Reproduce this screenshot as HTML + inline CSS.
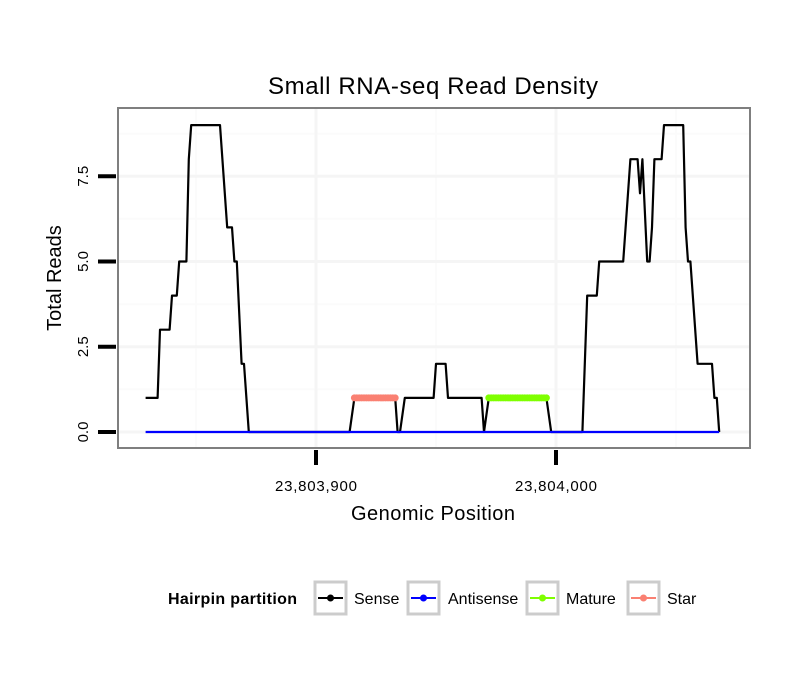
<!DOCTYPE html>
<html><head><meta charset="utf-8"><style>
body{margin:0;background:#fff;font-family:"Liberation Sans",sans-serif}
</style></head><body>
<svg id="chart" width="810" height="690" xmlns="http://www.w3.org/2000/svg" font-family="Liberation Sans, sans-serif">
<rect width="810" height="690" fill="#fff"/>
<text x="433" y="94" font-size="24" text-anchor="middle" textLength="330">Small RNA-seq Read Density</text>
<g id="grid"></g>
<g id="series"></g>
<rect x="118" y="108" width="632" height="340" fill="none" stroke="#7f7f7f" stroke-width="2"/>
<g id="axes"></g>
<text x="433" y="520" font-size="20" text-anchor="middle" textLength="164">Genomic Position</text>
<text transform="translate(61,278) rotate(-90)" font-size="20" text-anchor="middle">Total Reads</text>
<g font-size="16">
<text x="168" y="604" font-weight="bold" textLength="129">Hairpin partition</text>
<g><rect x="315" y="582" width="31" height="32" fill="#fff" stroke="#ccc" stroke-width="3"/><line x1="318" y1="598" x2="343" y2="598" stroke="#000" stroke-width="2"/><circle cx="330.5" cy="598" r="3.5" fill="#000"/><text x="354" y="604">Sense</text></g>
<g><rect x="408" y="582" width="31" height="32" fill="#fff" stroke="#ccc" stroke-width="3"/><line x1="411" y1="598" x2="436" y2="598" stroke="#00f" stroke-width="2"/><circle cx="423.5" cy="598" r="3.5" fill="#00f"/><text x="448" y="604">Antisense</text></g>
<g><rect x="527" y="582" width="31" height="32" fill="#fff" stroke="#ccc" stroke-width="3"/><line x1="530" y1="598" x2="555" y2="598" stroke="#7fff00" stroke-width="2"/><circle cx="542.5" cy="598" r="3.5" fill="#7fff00"/><text x="566" y="604">Mature</text></g>
<g><rect x="628" y="582" width="31" height="32" fill="#fff" stroke="#ccc" stroke-width="3"/><line x1="631" y1="598" x2="656" y2="598" stroke="#fa8072" stroke-width="2"/><circle cx="643.5" cy="598" r="3.5" fill="#fa8072"/><text x="667" y="604">Star</text></g>
</g>
</svg>
<script>
const sensePos = [23803829,23803834,23803835,23803839,23803840,23803842,23803843,23803846,23803847,23803848,23803860,23803863,23803865,23803866,23803867,23803869,23803870,23803872,23803914,23803916,23803933,23803934,23803935,23803937,23803949,23803950,23803954,23803955,23803969,23803970,23803972,23803996,23803998,23804011,23804013,23804017,23804018,23804028,23804029,23804031,23804034,23804035,23804036,23804038,23804039,23804040,23804041,23804044,23804045,23804053,23804054,23804055,23804056,23804059,23804065,23804066,23804067,23804068];
const senseVal = [1,1,3,3,4,4,5,5,8,9,9,6,6,5,5,2,2,0,0,1,1,0,0,1,1,2,2,1,1,0,1,1,0,0,4,4,5,5,6,8,8,7,8,5,5,6,8,8,9,9,6,5,5,2,2,1,1,0];
const antisensePos = [23803829,23804068];
const antisenseVal = [0,0];
const starRange = [23803916,23803933];
const starVal = 1;
const matureRange = [23803972,23803996];
const matureVal = 1;
const xTicks = [23803900,23804000];
const xTickLabels = ["23,803,900","23,804,000"];
const yTicks = [0,2.5,5,7.5];
const yTickLabels = ["0.0","2.5","5.0","7.5"];

const NS="http://www.w3.org/2000/svg";
const xs = p => 316 + (p-23803900)*2.4;
const ys = v => 432 - v*34.1;
function mk(tag, attrs, parent){const e=document.createElementNS(NS,tag);for(const k in attrs)e.setAttribute(k,attrs[k]);parent.appendChild(e);return e;}
const grid=document.getElementById('grid'), series=document.getElementById('series'), axes=document.getElementById('axes');
mk('rect',{x:118,y:108,width:632,height:340,fill:'#fff'},grid);
for(let p=23803850;p<=23804050;p+=100){const l=mk('line',{x1:xs(p),x2:xs(p),y1:109,y2:447,stroke:'#fbfbfb','stroke-width':2},grid);

}
for(let v=1.25;v<9.5;v+=2.5){const l=mk('line',{x1:119,x2:749,y1:ys(v),y2:ys(v),stroke:'#fbfbfb','stroke-width':2},grid);

}
xTicks.forEach((p,i)=>{const l=mk('line',{x1:xs(p),x2:xs(p),y1:109,y2:447,stroke:'#f5f5f5','stroke-width':3},grid);


const t=mk('line',{x1:xs(p),x2:xs(p),y1:450,y2:465,stroke:'#000','stroke-width':4},axes);


const tx=mk('text',{x:xs(p),y:491,'font-size':15,'text-anchor':'middle',textLength:82},axes);tx.textContent=xTickLabels[i];

});
yTicks.forEach((v,i)=>{const l=mk('line',{x1:119,x2:749,y1:ys(v),y2:ys(v),stroke:'#f5f5f5','stroke-width':3},grid);


const t=mk('line',{x1:98,x2:116,y1:ys(v),y2:ys(v),stroke:'#000','stroke-width':4},axes);


const tx=mk('text',{transform:`translate(88,${ys(v)}) rotate(-90)`,'font-size':15,'text-anchor':'middle'},axes);tx.textContent=yTickLabels[i];

});
function line(pos,val,color,name){const d=pos.map((p,i)=>(i?'L':'M')+xs(p).toFixed(1)+','+ys(val[i]).toFixed(1)).join('');
const e=mk('path',{d:d,fill:'none',stroke:color,'stroke-width':2.2,'stroke-linejoin':'round'},series);

}
function dotted(range,v,color,name){const g=mk('g',{},series);


mk('line',{x1:xs(range[0]),x2:xs(range[1]),y1:ys(v),y2:ys(v),stroke:color,'stroke-width':3},g);
for(let p=range[0];p<=range[1];p++){const c=mk('circle',{cx:xs(p),cy:ys(v),r:3.5,fill:color},g);

}}
line(sensePos,senseVal,'#000','sense-line');
line(antisensePos,antisenseVal,'#00f','antisense-line');
dotted(starRange,starVal,'#fa8072','star-series');
dotted(matureRange,matureVal,'#7fff00','mature-series');
</script>
</body></html>
